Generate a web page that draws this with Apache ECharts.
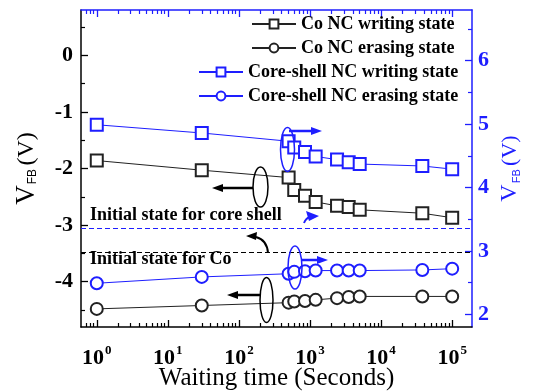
<!DOCTYPE html>
<html>
<head>
<meta charset="utf-8">
<script src="https://cdn.jsdelivr.net/npm/echarts@6/dist/echarts.min.js"></script>
<style>
    html, body { margin: 0; padding: 0; background: #fff; }
    #chart { width: 536px; height: 391px; }
</style>
</head>
<body>
<div id="chart"></div>
<script>
    // waiting time (s)
    const times = [1, 30, 500, 600, 850, 1200, 2400, 3500, 5000, 38000, 100000]
    // V_FB (V), Co NC -> left axis, core-shell NC -> right axis
    const coWriting = [-1.86, -2.03, -2.16, -2.38, -2.48, -2.59, -2.66, -2.68, -2.73, -2.79, -2.87]
    const coErasing = [-4.48, -4.42, -4.37, -4.35, -4.34, -4.32, -4.29, -4.27, -4.26, -4.26, -4.26]
    const csWriting = [4.99, 4.86, 4.73, 4.63, 4.56, 4.49, 4.44, 4.40, 4.37, 4.34, 4.29]
    const csErasing = [2.49, 2.59, 2.64, 2.67, 2.68, 2.69, 2.69, 2.69, 2.69, 2.70, 2.72]
    const initCo = -3.48
    const initCoreShell = 3.36

    // ticks
    const xMajor = [1, 10, 100, 1000, 10000, 100000]
    const xMinor = [0.7, 0.8, 0.9]
    xMajor.slice(0, 5).forEach(d => {
        for (let k = 2; k <= 9; k++) xMinor.push(d * k)
    })
    const leftMajor = [-4, -3, -2, -1, 0]
    const leftMinor = [-4.5, -3.5, -2.5, -1.5, -0.5, 0.5]
    const rightMajor = [2, 3, 4, 5, 6]
    const rightMinor = [2.5, 3.5, 4.5, 5.5, 6.5]

    const names = ['Co NC writing state', 'Co NC erasing state',
        'Core-shell NC writing state', 'Core-shell NC erasing state']

    const black = '#000'
    const blue = '#1e1eff'
    const serif = 'Liberation Serif'

    let myChart = echarts.init(document.getElementById('chart'))

    const pairs = arr => times.map((t, i) => [t, arr[i]])

    const xBase = { type: 'log', logBase: 10, min: 0.6, max: 190000, splitLine: { show: false } }
    const xAxes = [
        Object.assign({}, xBase, {
            position: 'bottom',
            axisLine: { onZero: false, lineStyle: { color: black, width: 1.5 } },
            axisTick: { inside: true, length: 7, customValues: xMajor, lineStyle: { color: black, width: 1.3 } },
            axisLabel: {
                customValues: xMajor,
                margin: 17,
                formatter: v => '{b|10}{s|' + Math.round(Math.log10(v)) + '}',
                rich: {
                    b: { fontFamily: serif, fontWeight: 'bold', fontSize: 22, color: black, lineHeight: 28 },
                    s: { fontFamily: serif, fontWeight: 'bold', fontSize: 13, color: black, verticalAlign: 'top', lineHeight: 14, padding: [0, 0, 0, 1] }
                }
            },
            name: 'Waiting time (Seconds)',
            nameLocation: 'middle',
            nameGap: 38,
            nameMoveOverlap: false,
            nameTextStyle: { fontFamily: serif, fontSize: 25, color: black, lineHeight: 26 }
        }),
        Object.assign({}, xBase, {
            position: 'top',
            axisLine: { onZero: false, lineStyle: { color: blue, width: 1.5 } },
            axisTick: { inside: true, length: 7, customValues: xMajor, lineStyle: { color: blue, width: 1.3 } },
            axisLabel: { show: false }
        }),
        Object.assign({}, xBase, {
            position: 'bottom',
            axisLine: { show: false, onZero: false },
            axisTick: { inside: true, length: 4, customValues: xMinor, lineStyle: { color: black, width: 1.2 } },
            axisLabel: { show: false }
        }),
        Object.assign({}, xBase, {
            position: 'top',
            axisLine: { show: false, onZero: false },
            axisTick: { inside: true, length: 4, customValues: xMinor, lineStyle: { color: blue, width: 1.2 } },
            axisLabel: { show: false }
        })
    ]

    const leftBase = { type: 'value', min: -4.8, max: 0.8, splitLine: { show: false } }
    const rightBase = { type: 'value', min: 1.8, max: 6.8, splitLine: { show: false } }
    const yAxes = [
        Object.assign({}, leftBase, {
            position: 'left',
            axisLine: { show: true, onZero: false, lineStyle: { color: black, width: 1.5 } },
            axisTick: { show: true, inside: true, length: 7, customValues: leftMajor, lineStyle: { color: black, width: 1.3 } },
            axisLabel: { customValues: leftMajor, margin: 8, fontFamily: serif, fontWeight: 'bold', fontSize: 22, color: black },
            name: '{v|V}{s|FB} {p|(V)}',
            nameLocation: 'middle',
            nameRotate: 90,
            nameGap: 42,
            nameMoveOverlap: false,
            nameTextStyle: {
                rich: {
                    v: { fontFamily: serif, fontSize: 27, color: black, lineHeight: 24 },
                    s: { fontFamily: 'Liberation Sans', fontSize: 12, color: black, verticalAlign: 'bottom', lineHeight: 24, padding: [0, 0, 0, 1] },
                    p: { fontFamily: serif, fontSize: 24, color: black, lineHeight: 24 }
                }
            }
        }),
        Object.assign({}, rightBase, {
            position: 'right',
            axisLine: { show: true, onZero: false, lineStyle: { color: blue, width: 1.5 } },
            axisTick: { show: true, inside: true, length: 7, customValues: rightMajor, lineStyle: { color: blue, width: 1.3 } },
            axisLabel: { customValues: rightMajor, margin: 6, fontFamily: serif, fontWeight: 'bold', fontSize: 22, color: blue },
            name: '{v|V}{s|FB} {p|(V)}',
            nameLocation: 'middle',
            nameRotate: 90,
            nameGap: 26,
            nameMoveOverlap: false,
            nameTextStyle: {
                rich: {
                    v: { fontFamily: serif, fontSize: 24, color: blue, lineHeight: 24 },
                    s: { fontFamily: 'Liberation Sans', fontSize: 11, color: blue, verticalAlign: 'bottom', lineHeight: 24, padding: [0, 0, 0, 1] },
                    p: { fontFamily: serif, fontSize: 22, color: blue, lineHeight: 24 }
                }
            }
        }),
        Object.assign({}, leftBase, {
            position: 'left',
            axisLine: { show: false, onZero: false },
            axisTick: { show: true, inside: true, length: 4, customValues: leftMinor, lineStyle: { color: black, width: 1.2 } },
            axisLabel: { show: false }
        }),
        Object.assign({}, rightBase, {
            position: 'right',
            axisLine: { show: false, onZero: false },
            axisTick: { show: true, inside: true, length: 4, customValues: rightMinor, lineStyle: { color: blue, width: 1.2 } },
            axisLabel: { show: false }
        })
    ]

    function lineSeries(name, arr, yIdx, color, symbol, markLine) {
        let s = {
            type: 'line',
            name: name,
            xAxisIndex: 0,
            yAxisIndex: yIdx,
            data: pairs(arr),
            symbol: symbol,
            symbolSize: 12,
            showAllSymbol: true,
            lineStyle: { color: color, width: 1 },
            itemStyle: { color: color, borderWidth: 1.3 },
            z: 3
        }
        if (markLine) s.markLine = markLine
        return s
    }

    function initLine(value, color, text, pos, dy) {
        return {
            silent: true,
            symbol: 'none',
            data: [{ yAxis: value }],
            lineStyle: { color: color, width: 1.2, type: [5, 3] },
            label: {
                show: true,
                position: pos,
                formatter: text,
                distance: 6,
                offset: [0, dy],
                padding: [0, 0, 0, 3],
                fontFamily: serif,
                fontWeight: 'bold',
                fontSize: 18,
                color: black
            }
        }
    }

    const legendText = { fontFamily: serif, fontWeight: 'bold', fontSize: 18, color: black, lineHeight: 20 }

    // annotations
    function ellipse(cx, cy, rx, ry, color) {
        return { type: 'ellipse', z: 100, shape: { cx, cy, rx, ry }, style: { fill: null, stroke: color, lineWidth: 1.5 } }
    }
    function arrowH(x1, x2, y, color) {
        const dir = x2 > x1 ? 1 : -1
        return [
            { type: 'line', z: 100, shape: { x1: x1, y1: y, x2: x2 - dir * 8, y2: y }, style: { stroke: color, lineWidth: 2.5 } },
            { type: 'polygon', z: 100, shape: { points: [[x2, y], [x2 - dir * 11, y - 4], [x2 - dir * 11, y + 4]] }, style: { fill: color } }
        ]
    }

    let graphics = [
        ellipse(260.5, 187, 7.5, 20, black),
        ...arrowH(253, 212, 188, black),
        ellipse(287.5, 149.5, 7, 22, blue),
        ...arrowH(289, 322, 131, blue),
        ellipse(295, 267.5, 7, 21.5, blue),
        ...arrowH(301, 328, 260, blue),
        ellipse(266.5, 300, 6.5, 22.5, black),
        ...arrowH(260, 227, 295, black),
        { type: 'bezierCurve', z: 100, shape: { x1: 268, y1: 253, cpx1: 267, cpy1: 240, x2: 256, y2: 237 }, style: { stroke: black, lineWidth: 2, fill: null } },
        { type: 'polygon', z: 100, shape: { points: [[246, 236], [257, 232], [256, 240]] }, style: { fill: black } },
        { type: 'bezierCurve', z: 100, shape: { x1: 304, y1: 223, cpx1: 306, cpy1: 218, x2: 310, y2: 217 }, style: { stroke: blue, lineWidth: 2, fill: null } },
        { type: 'polygon', z: 100, shape: { points: [[319, 216], [306, 211], [309, 221]] }, style: { fill: blue } }
    ]

    let option = {
        backgroundColor: '#fff',
        animation: false,
        grid: { left: 81, right: 64, top: 10, bottom: 64, outerBoundsMode: 'none' },
        legend: [{
            data: names.slice(0, 2),
            orient: 'vertical',
            left: 246,
            top: 9,
            itemWidth: 44,
            itemHeight: 11,
            itemGap: 4,
            textStyle: legendText
        }, {
            data: names.slice(2),
            orient: 'vertical',
            left: 193,
            top: 57,
            itemWidth: 44,
            itemHeight: 11,
            itemGap: 4,
            textStyle: legendText
        }],
        xAxis: xAxes,
        yAxis: yAxes,
        series: [
            lineSeries(names[0], coWriting, 0, '#222', 'emptyRect',
                initLine(initCo, black, 'Initial state for Co', 'insideStartBottom', -8)),
            lineSeries(names[1], coErasing, 0, '#222', 'emptyCircle'),
            lineSeries(names[2], csWriting, 1, blue, 'emptyRect',
                initLine(initCoreShell, blue, 'Initial state for core shell', 'insideStartTop', 2)),
            lineSeries(names[3], csErasing, 1, blue, 'emptyCircle')
        ],
        graphic: graphics
    }
    myChart.setOption(option)
</script>
</body>
</html>
